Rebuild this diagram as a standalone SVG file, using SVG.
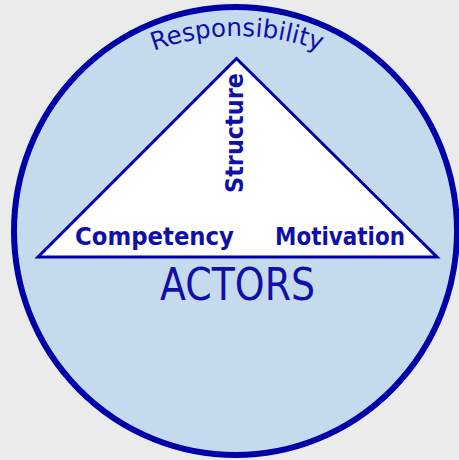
<svg xmlns="http://www.w3.org/2000/svg" width="459" height="460" viewBox="0 0 459 460">
  <defs>
    <style>
      .lbl { font-family: "DejaVu Sans", Verdana, sans-serif; fill: #1010a8; }
      .bold { font-weight: bold; font-size: 24px; }
    </style>
    <path id="arc" d="M 137,57.8 A 240 240 0 0 1 337,57.8"/>
  </defs>
  <rect x="0" y="0" width="459" height="460" fill="#ebebeb"/>
  <g id="circle">
    <ellipse cx="235.5" cy="231" rx="221.5" ry="224" fill="#c6daee" stroke="#0000a8" stroke-width="6"/>
    <text class="lbl" font-size="25"><textPath href="#arc" startOffset="50%" text-anchor="middle" textLength="170" lengthAdjust="spacingAndGlyphs">Responsibility</textPath></text>
  </g>
  <g id="triangle">
    <polygon points="236.5,58.5 38,257 437,257" fill="#ffffff" stroke="#0000a8" stroke-width="3" stroke-linejoin="miter"/>
  </g>
  <g id="structure">
    <text class="lbl bold" transform="translate(243,193) rotate(-90)" textLength="120" lengthAdjust="spacingAndGlyphs">Structure</text>
  </g>
  <g id="competency">
    <text class="lbl bold" x="75" y="245" textLength="159" lengthAdjust="spacingAndGlyphs">Competency</text>
  </g>
  <g id="motivation">
    <text class="lbl bold" x="275" y="245" textLength="130" lengthAdjust="spacingAndGlyphs">Motivation</text>
  </g>
  <g id="actors">
    <text class="lbl" x="160" y="300" font-size="44" textLength="155" lengthAdjust="spacingAndGlyphs">ACTORS</text>
  </g>
  <g id="connectors"></g>
</svg>
